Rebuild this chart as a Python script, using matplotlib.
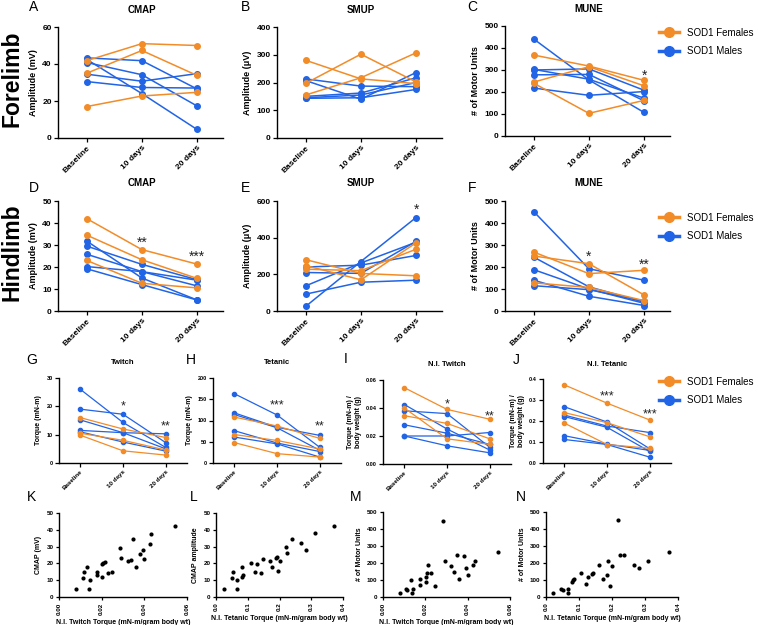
import matplotlib
matplotlib.use('Agg')
import matplotlib.pyplot as plt
from matplotlib.lines import Line2D
import matplotlib.transforms as mtransforms

W, H = 758, 625
plt.rcParams['font.family'] = ['Liberation Sans', 'DejaVu Sans']
plt.rcParams['font.weight'] = 'bold'
plt.rcParams['axes.linewidth'] = 1.0

ORANGE = '#F28C28'
BLUE = '#2164E6'

timepoints = ['Baseline', '10 days', '20 days']

# ---------------- Forelimb ----------------
a_fem = [[41.8, 51.0, 50.0], [35.0, 47.3, 33.8], [17.0, 22.7, 24.7]]
a_male = [[43.3, 41.8, 26.5], [40.8, 34.2, 17.3], [34.5, 30.7, 34.8],
          [30.5, 27.3, 27.0], [42.5, 24.0, 4.6]]

b_fem = [[280, 213, 196], [197, 302, 202], [155, 217, 307]]
b_male = [[213, 187, 185], [207, 140, 236], [150, 162, 217],
          [145, 155, 200], [143, 145, 175]]

c_fem = [[368, 318, 253], [245, 315, 228], [240, 103, 162]]
c_male = [[441, 255, 107], [303, 258, 172], [278, 280, 160],
          [300, 305, 208], [218, 185, 202]]

# ---------------- Hindlimb ----------------
d_fem = [[42.0, 27.9, 21.3], [34.5, 23.3, 14.8], [23.0, 12.6, 10.5]]
d_male = [[31.8, 15.0, 5.0], [29.5, 21.2, 14.2], [25.8, 17.9, 11.4],
          [20.2, 17.9, 14.0], [19.2, 12.0, 5.0]]

e_fem = [[280, 205, 192], [248, 170, 372], [228, 220, 337]]
e_male = [[240, 250, 303], [210, 205, 380], [137, 262, 375],
          [92, 157, 168], [25, 270, 510]]

f_fem = [[268, 170, 185], [250, 215, 73], [128, 107, 47]]
f_male = [[452, 192, 140], [245, 110, 40], [188, 100, 35],
          [140, 67, 25], [115, 97, 45]]

# ---------------- Torque ----------------
g_fem = [[16.0, 12.0, 9.0], [10.5, 8.0, 4.6], [9.8, 4.3, 2.8]]
g_male = [[26.0, 14.3, 5.5], [19.0, 17.2, 7.2], [15.2, 10.7, 10.3],
          [11.5, 10.7, 5.0], [11.0, 7.4, 4.2]]

h_fem = [[108, 87, 58], [67, 53, 33], [48, 22, 14]]
h_male = [[163, 113, 37], [118, 84, 65], [114, 83, 30],
          [76, 47, 27], [61, 45, 14]]

i_fem = [[0.0545, 0.039, 0.032], [0.040, 0.018, 0.014], [0.0345, 0.029, 0.018]]
i_male = [[0.0425, 0.025, 0.010], [0.038, 0.036, 0.012], [0.028, 0.022, 0.014],
          [0.020, 0.020, 0.0225], [0.020, 0.013, 0.008]]

j_fem = [[0.372, 0.285, 0.205], [0.240, 0.192, 0.125], [0.190, 0.088, 0.070]]
j_male = [[0.268, 0.195, 0.068], [0.228, 0.176, 0.145], [0.221, 0.170, 0.055],
          [0.130, 0.090, 0.060], [0.112, 0.088, 0.028]]

# ---------------- Correlations ----------------
k_x = [0.0082, 0.0111, 0.0116, 0.0133, 0.0140, 0.0144, 0.0179, 0.0179, 0.0201,
       0.0201, 0.0207, 0.0217, 0.0228, 0.0250, 0.0286, 0.0292, 0.0325, 0.0338,
       0.0349, 0.0361, 0.0380, 0.0392, 0.0400, 0.0427, 0.0432, 0.0545]
k_y = [4.9, 11.2, 14.6, 18.1, 4.9, 10.2, 14.6, 12.8, 11.8, 19.5, 20.1, 21.1,
       14.2, 15.0, 29.3, 23.4, 21.5, 22.0, 34.4, 17.7, 25.8, 28.0, 22.8, 31.7,
       37.4, 42.1]

l_x = [0.024, 0.049, 0.054, 0.067, 0.067, 0.081, 0.083, 0.086, 0.109, 0.122,
       0.128, 0.143, 0.149, 0.170, 0.175, 0.188, 0.192, 0.195, 0.203, 0.220,
       0.224, 0.238, 0.269, 0.283, 0.311, 0.372]
l_y = [4.9, 11.4, 15.0, 4.9, 10.2, 12.2, 18.1, 13.2, 20.5, 14.8, 19.5, 14.2,
       22.4, 21.7, 18.1, 23.4, 23.8, 15.2, 21.7, 29.5, 26.0, 34.8, 32.3, 28.0,
       38.0, 42.5]

m_x = [0.0079, 0.0110, 0.0113, 0.0132, 0.0137, 0.0141, 0.0176, 0.0176, 0.0204,
       0.0204, 0.0208, 0.0214, 0.0226, 0.0246, 0.0283, 0.0292, 0.0322, 0.0336,
       0.0349, 0.0361, 0.0383, 0.0394, 0.0402, 0.0427, 0.0433, 0.0545]
m_y = [25, 46, 40, 100, 23, 46, 106, 71, 91, 116, 139, 189, 139, 66, 446, 212,
       181, 149, 249, 108, 243, 168, 129, 187, 212, 264]

n_x = [0.021, 0.045, 0.053, 0.066, 0.067, 0.080, 0.082, 0.084, 0.105, 0.122,
       0.126, 0.138, 0.142, 0.161, 0.172, 0.184, 0.187, 0.194, 0.200, 0.219,
       0.223, 0.237, 0.266, 0.282, 0.310, 0.372]
n_y = [26, 49, 41, 45, 22, 90, 99, 107, 140, 75, 116, 136, 144, 191, 107, 129,
       213, 65, 183, 452, 245, 249, 191, 168, 213, 267]

fig = plt.figure(figsize=(W / 100, H / 100), dpi=100)


def px_axes(left, top, right, bottom):
    return fig.add_axes([left / W, 1 - bottom / H, (right - left) / W, (bottom - top) / H])


def style(ax, xtick_fs, ytick_fs, tick_len=3):
    for s in ('top', 'right'):
        ax.spines[s].set_visible(False)
    ax.tick_params(axis='both', direction='out', length=tick_len, width=0.9, pad=1.5)
    ax.tick_params(axis='x', labelsize=xtick_fs)
    ax.tick_params(axis='y', labelsize=ytick_fs)
    for lab in ax.get_xticklabels() + ax.get_yticklabels():
        lab.set_fontweight('bold')


def line_panel(box, fem, male, ylim, yticks, ylabel, title, title_ypx, stars,
               xtick_fs, ytick_fs, label_fs, title_fs, xlim, ms, yfmt=None,
               star_fs=10, lw=1.1):
    ax = px_axes(*box)
    x = list(range(len(timepoints)))
    for row in male:
        ax.plot(x, row, color=BLUE, lw=lw, marker='o', ms=ms, mec=BLUE, zorder=3)
    for row in fem:
        ax.plot(x, row, color=ORANGE, lw=lw, marker='o', ms=ms, mec=ORANGE, zorder=3)
    ax.set_xlim(*xlim)
    ax.set_ylim(*ylim)
    ax.set_yticks(yticks)
    if yfmt:
        ax.set_yticklabels([yfmt.format(v) for v in yticks])
    ax.set_xticks(x)
    ax.set_xticklabels(timepoints, rotation=45, ha='right', rotation_mode='anchor')
    ax.set_ylabel(ylabel, fontsize=label_fs, fontweight='bold', labelpad=3)
    style(ax, xtick_fs, ytick_fs)
    trans = mtransforms.blended_transform_factory(ax.transData, ax.transAxes)
    top, bottom = box[1], box[3]
    ax.text(1, 1 + (top - title_ypx) / (bottom - top), title, transform=trans,
            ha='center', va='center', fontsize=title_fs, fontweight='bold')
    for (xi, yv, s) in stars:
        ax.text(xi, yv, s, ha='center', va='center', fontsize=star_fs,
                fontweight='normal', color='#222222')
    return ax


XL1 = (-0.52, 2.47)
XL3 = (-0.5, 2.5)

# Row 1
line_panel((58, 27, 223, 138), a_fem, a_male, (0, 60), [0, 20, 40, 60],
           'Amplitude (mV)', 'CMAP', 10, [], 6, 6, 6.5, 7, XL1, 4)
line_panel((277, 27, 442, 138), b_fem, b_male, (0, 400), [0, 100, 200, 300, 400],
           'Amplitude (\u03bcV)', 'SMUP', 10, [], 6, 6, 6.5, 7, XL1, 4)
line_panel((505, 26, 670, 136), c_fem, c_male, (0, 500), [0, 100, 200, 300, 400, 500],
           '# of Motor Units', 'MUNE', 9, [(2, 275, '*')], 6, 6, 6.5, 7, XL1, 4)
# Row 2
line_panel((58, 201, 223, 311), d_fem, d_male, (0, 50), [0, 10, 20, 30, 40, 50],
           'Amplitude (mV)', 'CMAP', 183, [(1, 31, '**'), (2, 24.5, '***')], 6, 6, 6.5, 7, XL1, 4)
line_panel((277, 201, 442, 311), e_fem, e_male, (0, 600), [0, 200, 400, 600],
           'Amplitude (\u03bcV)', 'SMUP', 183, [(2, 550, '*')], 6, 6, 6.5, 7, XL1, 4)
line_panel((505, 201, 670, 311), f_fem, f_male, (0, 500), [0, 100, 200, 300, 400, 500],
           '# of Motor Units', 'MUNE', 183, [(1, 245, '*'), (2, 210, '**')], 6, 6, 6.5, 7, XL1, 4)
# Row 3
line_panel((59, 378, 187, 463), g_fem, g_male, (0, 30), [0, 10, 20, 30],
           'Torque (mN-m)', 'Twitch', 363, [(1, 20, '*'), (2, 12.8, '**')], 4.5, 4, 5, 5.5,
           XL3, 3, star_fs=9, lw=0.9)
line_panel((213, 378, 341, 463), h_fem, h_male, (0, 200), [0, 50, 100, 150, 200],
           'Torque (mN-m)', 'Tetanic', 363, [(1, 135, '***'), (2, 85, '**')], 4.5, 4, 5, 5.5,
           XL3, 3, star_fs=9, lw=0.9)
line_panel((383, 380, 511, 464), i_fem, i_male, (0, 0.06), [0, 0.02, 0.04, 0.06],
           'Torque (mN-m) /\nbody weight (g)', 'N.I. Twitch', 364,
           [(1, 0.0425, '*'), (2, 0.034, '**')], 4.5, 4, 5, 5.5, XL3, 3, yfmt='{:.2f}',
           star_fs=9, lw=0.9)
line_panel((543, 379, 671, 463), j_fem, j_male, (0, 0.4), [0, 0.1, 0.2, 0.3, 0.4],
           'Torque (mN-m) /\nbody weight (g)', 'N.I. Tetanic', 364,
           [(1, 0.315, '***'), (2, 0.232, '***')], 4.5, 4, 5, 5.5, XL3, 3, yfmt='{:.1f}',
           star_fs=9, lw=0.9)


def scatter_panel(box, xs, ys, xlim, xticks, xfmt, ylim, yticks, xlabel, ylabel):
    ax = px_axes(*box)
    ax.scatter(xs, ys, s=9, color='black', zorder=3, linewidths=0)
    ax.set_xlim(*xlim)
    ax.set_ylim(*ylim)
    ax.set_xticks(xticks)
    ax.set_xticklabels([xfmt.format(v) for v in xticks], rotation=90)
    ax.set_yticks(yticks)
    ax.set_xlabel(xlabel, fontsize=5, fontweight='bold', labelpad=3)
    ax.set_ylabel(ylabel, fontsize=5, fontweight='bold', labelpad=3)
    style(ax, 4.5, 4.5, tick_len=2.5)
    return ax


tw_ticks = [0, 0.02, 0.04, 0.06]
te_ticks = [0, 0.1, 0.2, 0.3, 0.4]
scatter_panel((59, 513, 187, 597), k_x, k_y, (0, 0.06), tw_ticks, '{:.2f}', (0, 50),
              [0, 10, 20, 30, 40, 50], 'N.I. Twitch Torque (mN-m/gram body wt)', 'CMAP (mV)')
scatter_panel((216, 513, 343, 597), l_x, l_y, (0, 0.4), te_ticks, '{:.1f}', (0, 50),
              [0, 10, 20, 30, 40, 50], 'N.I. Tetanic Torque (mN-m/gram body wt)', 'CMAP amplitude')
scatter_panel((383, 512, 510, 597), m_x, m_y, (0, 0.06), tw_ticks, '{:.2f}', (0, 500),
              [0, 100, 200, 300, 400, 500], 'N.I. Twitch Torque (mN-m/gram body wt)', '# of Motor Units')
scatter_panel((546, 512, 678, 597), n_x, n_y, (0, 0.4), te_ticks, '{:.1f}', (0, 500),
              [0, 100, 200, 300, 400, 500], 'N.I. Tetanic Torque (mN-m/gram body wt)', '# of Motor Units')

# Legends
handles = [Line2D([0], [0], color=ORANGE, lw=2.5, marker='o', ms=7),
           Line2D([0], [0], color=BLUE, lw=2.5, marker='o', ms=7)]
labels = ['SOD1 Females', 'SOD1 Males']
for ycen in (42, 227, 391):
    leg = fig.legend(handles, labels, loc='center left',
                     bbox_to_anchor=(659 / W, 1 - ycen / H), frameon=False,
                     fontsize=7, handlelength=2.1, handletextpad=0.8,
                     labelspacing=0.9, borderpad=0, borderaxespad=0)
    for t in leg.get_texts():
        t.set_fontweight('normal')

# Panel letters
letters = [('A', 34, 7), ('B', 245, 7), ('C', 472, 7),
           ('D', 34, 188), ('E', 245, 188), ('F', 472, 188),
           ('G', 32, 360), ('H', 191, 360), ('I', 346, 359), ('J', 516, 360),
           ('K', 32, 497), ('L', 194, 497), ('M', 356, 497), ('N', 521, 497)]
for s, x, y in letters:
    fig.text(x / W, 1 - y / H, s, fontsize=10, fontweight='normal', ha='center', va='center')

fig.text(0.5 / W, 1 - 79 / H, 'Forelimb', rotation=90, fontsize=16.5, fontweight='bold',
         ha='left', va='center')
fig.text(0.5 / W, 1 - 252 / H, 'Hindlimb', rotation=90, fontsize=16.5, fontweight='bold',
         ha='left', va='center')

fig.savefig('out.png', dpi=100)
